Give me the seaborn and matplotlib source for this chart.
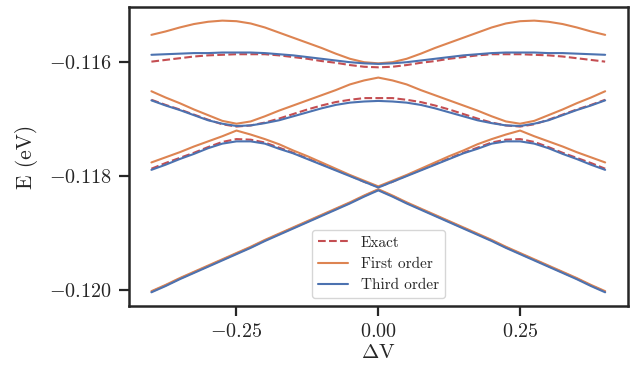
import numpy as np
import pandas as pd
import matplotlib
matplotlib.use("Agg")
import matplotlib.pyplot as plt
import seaborn as sns
from matplotlib.ticker import FuncFormatter

# ---------------- data ----------------
dv = [-0.4, -0.375, -0.35, -0.325, -0.3, -0.275, -0.25, -0.225, -0.2, -0.175, -0.15,
      -0.125, -0.1, -0.075, -0.05, -0.025, 0.0, 0.025, 0.05, 0.075, 0.1, 0.125, 0.15,
      0.175, 0.2, 0.225, 0.25, 0.275, 0.3, 0.325, 0.35, 0.375, 0.4]

methods = ["Exact", "First order", "Third order"]

exact1 = [-0.11599, -0.11596, -0.11593, -0.11590, -0.11588, -0.11587, -0.11586, -0.11586, -0.11586, -0.11588, -0.11591, -0.11594, -0.11598, -0.11601, -0.11605, -0.11608, -0.11609, -0.11608, -0.11605, -0.11601, -0.11598, -0.11594, -0.11591, -0.11588, -0.11586, -0.11586, -0.11586, -0.11587, -0.11588, -0.11590, -0.11593, -0.11596, -0.11599]
exact2 = [-0.11666, -0.11675, -0.11683, -0.11692, -0.11701, -0.11709, -0.11713, -0.11711, -0.11706, -0.11699, -0.11691, -0.11683, -0.11676, -0.11670, -0.11666, -0.11663, -0.11663, -0.11663, -0.11666, -0.11670, -0.11676, -0.11683, -0.11691, -0.11699, -0.11706, -0.11711, -0.11713, -0.11709, -0.11701, -0.11692, -0.11683, -0.11675, -0.11666]
exact3 = [-0.11787, -0.11777, -0.11768, -0.11759, -0.11749, -0.11740, -0.11735, -0.11736, -0.11741, -0.11750, -0.11759, -0.11769, -0.11779, -0.11789, -0.11799, -0.11810, -0.11819, -0.11810, -0.11799, -0.11789, -0.11779, -0.11769, -0.11759, -0.11750, -0.11741, -0.11736, -0.11735, -0.11740, -0.11749, -0.11759, -0.11768, -0.11777, -0.11787]
exact4 = [-0.12003, -0.11992, -0.11980, -0.11969, -0.11958, -0.11947, -0.11936, -0.11925, -0.11913, -0.11902, -0.11891, -0.11880, -0.11869, -0.11858, -0.11847, -0.11835, -0.11824, -0.11835, -0.11847, -0.11858, -0.11869, -0.11880, -0.11891, -0.11902, -0.11913, -0.11925, -0.11936, -0.11947, -0.11958, -0.11969, -0.11980, -0.11992, -0.12003]

first1 = [-0.11552, -0.11546, -0.11539, -0.11533, -0.11529, -0.11527, -0.11528, -0.11532, -0.11539, -0.11548, -0.11557, -0.11566, -0.11575, -0.11585, -0.11594, -0.11600, -0.11602, -0.11600, -0.11594, -0.11585, -0.11575, -0.11566, -0.11557, -0.11548, -0.11539, -0.11532, -0.11528, -0.11527, -0.11529, -0.11533, -0.11539, -0.11546, -0.11552]
first2 = [-0.11651, -0.11662, -0.11672, -0.11683, -0.11693, -0.11703, -0.11708, -0.11704, -0.11695, -0.11685, -0.11676, -0.11667, -0.11658, -0.11649, -0.11639, -0.11632, -0.11627, -0.11632, -0.11639, -0.11649, -0.11658, -0.11667, -0.11676, -0.11685, -0.11695, -0.11704, -0.11708, -0.11703, -0.11693, -0.11683, -0.11672, -0.11662, -0.11651]
first3 = [-0.11776, -0.11767, -0.11758, -0.11748, -0.11739, -0.11730, -0.11720, -0.11727, -0.11735, -0.11744, -0.11755, -0.11765, -0.11776, -0.11787, -0.11798, -0.11808, -0.11818, -0.11808, -0.11798, -0.11787, -0.11776, -0.11765, -0.11755, -0.11744, -0.11735, -0.11727, -0.11720, -0.11730, -0.11739, -0.11748, -0.11758, -0.11767, -0.11776]
first4 = [-0.12002, -0.11991, -0.11979, -0.11968, -0.11957, -0.11946, -0.11935, -0.11924, -0.11912, -0.11901, -0.11890, -0.11879, -0.11868, -0.11857, -0.11846, -0.11834, -0.11823, -0.11834, -0.11846, -0.11857, -0.11868, -0.11879, -0.11890, -0.11901, -0.11912, -0.11924, -0.11935, -0.11946, -0.11957, -0.11968, -0.11979, -0.11991, -0.12002]

third1 = [-0.11587, -0.11586, -0.11585, -0.11584, -0.11584, -0.11583, -0.11583, -0.11583, -0.11584, -0.11586, -0.11588, -0.11591, -0.11594, -0.11597, -0.11600, -0.11602, -0.11603, -0.11602, -0.11600, -0.11597, -0.11594, -0.11591, -0.11588, -0.11586, -0.11584, -0.11583, -0.11583, -0.11583, -0.11584, -0.11584, -0.11585, -0.11586, -0.11587]
third2 = [-0.11667, -0.11676, -0.11684, -0.11693, -0.11702, -0.11708, -0.11712, -0.11711, -0.11707, -0.11702, -0.11695, -0.11688, -0.11681, -0.11675, -0.11671, -0.11669, -0.11668, -0.11669, -0.11671, -0.11675, -0.11681, -0.11688, -0.11695, -0.11702, -0.11707, -0.11711, -0.11712, -0.11708, -0.11702, -0.11693, -0.11684, -0.11676, -0.11667]
third3 = [-0.11789, -0.11780, -0.11770, -0.11761, -0.11751, -0.11743, -0.11739, -0.11739, -0.11743, -0.11752, -0.11760, -0.11770, -0.11780, -0.11790, -0.11800, -0.11810, -0.11820, -0.11810, -0.11800, -0.11790, -0.11780, -0.11770, -0.11760, -0.11752, -0.11743, -0.11739, -0.11739, -0.11743, -0.11751, -0.11761, -0.11770, -0.11780, -0.11789]
third4 = [-0.12004, -0.11993, -0.11981, -0.11970, -0.11959, -0.11948, -0.11937, -0.11926, -0.11914, -0.11903, -0.11892, -0.11881, -0.11870, -0.11859, -0.11848, -0.11836, -0.11825, -0.11836, -0.11848, -0.11859, -0.11870, -0.11881, -0.11892, -0.11903, -0.11914, -0.11926, -0.11937, -0.11948, -0.11959, -0.11970, -0.11981, -0.11993, -0.12004]

xticks = [-0.25, 0.0, 0.25]
yticks = [-0.120, -0.118, -0.116]

# ---------------- long-form table ----------------
series = {
    "Exact": [exact1, exact2, exact3, exact4],
    "First order": [first1, first2, first3, first4],
    "Third order": [third1, third2, third3, third4],
}
rows = []
for m in methods:
    for lev, vals in enumerate(series[m]):
        for x, e in zip(dv, vals):
            rows.append((m, lev, x, e))
df = pd.DataFrame(rows, columns=["method", "level", "dv", "E"])

# ---------------- style ----------------
sns.set_theme(style="ticks")
plt.rcParams.update({
    "font.family": ["cmr10", "DejaVu Serif"],
    "mathtext.fontset": "cm",
    "axes.formatter.use_mathtext": True,
    "axes.edgecolor": "#262626",
    "axes.linewidth": 1.8,
})

deep = sns.color_palette("deep")
palette = {"Exact": deep[3], "First order": deep[1], "Third order": deep[0]}
dashes = {"Exact": (3.7, 1.6), "First order": "", "Third order": ""}

fig = plt.figure(figsize=(6.31, 3.66), dpi=100)
ax = fig.add_axes([0.204, 0.164, 0.791, 0.817])

sns.lineplot(data=df, x="dv", y="E", hue="method", style="method", units="level",
             estimator=None, hue_order=methods, style_order=methods,
             palette=palette, dashes=dashes, linewidth=1.5, sort=False, ax=ax)

ax.set_xlim(-0.44, 0.44)
ax.set_ylim(-0.12028, -0.11503)
ax.set_xticks(xticks)
ax.set_yticks(yticks)
ax.xaxis.set_major_formatter(FuncFormatter(lambda v, p: f"${v:.2f}$"))
ax.yaxis.set_major_formatter(FuncFormatter(lambda v, p: f"${v:.3f}$"))
ax.tick_params(axis="both", length=7.5, width=1.6, pad=5, labelsize=14.5, color="#262626")

ax.set_xlabel(r"$\Delta$V", fontsize=15, labelpad=2)
ax.set_ylabel("E (eV)", fontsize=15.5, labelpad=8)

handles, labels = ax.get_legend_handles_labels()
hl = [(h, l) for h, l in zip(handles, labels) if l in methods]
ax.legend([h for h, _ in hl], [l for _, l in hl], loc="lower center", fontsize=11,
          handlelength=2.0, frameon=True, fancybox=True)

fig.savefig("out.png", dpi=100)
